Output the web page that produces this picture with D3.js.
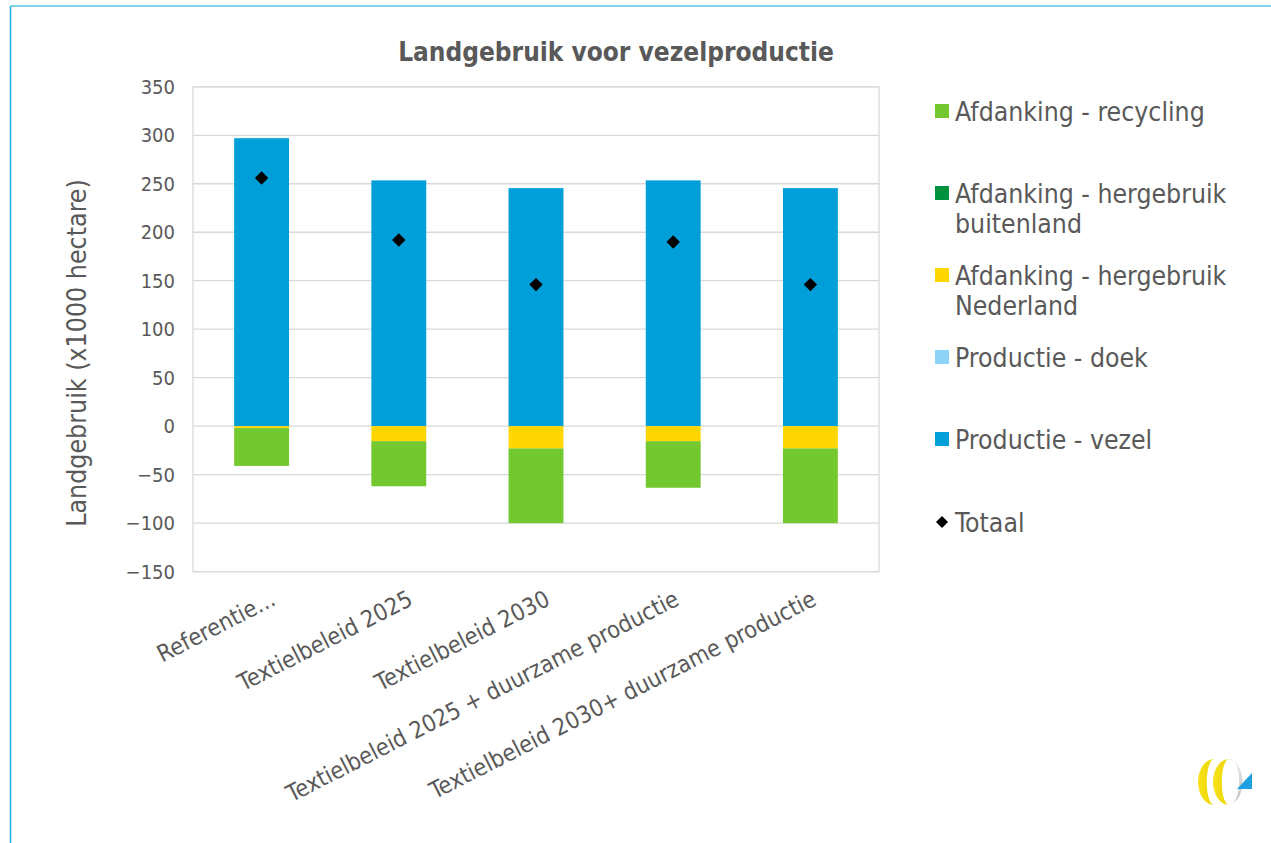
<!DOCTYPE html>
<html>
<head>
<meta charset="utf-8">
<script src="https://cdn.jsdelivr.net/npm/d3@7"></script>
<style>
  html, body { margin: 0; padding: 0; background: #fff; }
  svg { display: block; }
  text { font-family: "DejaVu Sans Condensed", "DejaVu Sans", sans-serif; fill: #595959; }
</style>
</head>
<body>
<svg id="chart" width="1271" height="843"></svg>
<script>
// ---- data ----
const categories = ["Referentie...", "Textielbeleid 2025", "Textielbeleid 2030",
  "Textielbeleid 2025 + duurzame productie", "Textielbeleid 2030+ duurzame productie"];
const productieVezel = [297, 253.5, 245.5, 253.5, 245.5];
const productieDoek = [0, 0, 0, 0, 0];
const hergebruikNederland = [-2, -15.5, -23, -15.5, -23];
const hergebruikBuitenland = [0, 0, 0, 0, 0];
const recycling = [-39, -46.5, -77, -48, -77];
const totaal = [256, 192, 146, 190, 146];
const yTicks = [350, 300, 250, 200, 150, 100, 50, 0, -50, -100, -150];

const seriesKeys = ["vezel", "doek", "nl", "buitenland", "recycling"];
const seriesColors = { vezel: "#009FDA", doek: "#8DD3F7", nl: "#FFD700", buitenland: "#00923F", recycling: "#72C82E" };
const legendItems = [
  { key: "recycling", lines: ["Afdanking - recycling"] },
  { key: "buitenland", lines: ["Afdanking - hergebruik", "buitenland"] },
  { key: "nl", lines: ["Afdanking - hergebruik", "Nederland"] },
  { key: "doek", lines: ["Productie - doek"] },
  { key: "vezel", lines: ["Productie - vezel"] },
  { key: "totaal", lines: ["Totaal"] }
];

const table = categories.map((c, i) => ({
  cat: c, vezel: productieVezel[i], doek: productieDoek[i], nl: hergebruikNederland[i],
  buitenland: hergebruikBuitenland[i], recycling: recycling[i], totaal: totaal[i]
}));

const FONT = "'DejaVu Sans Condensed', 'DejaVu Sans', sans-serif";
const svg = d3.select("#chart");

// outer frame (partially visible)
svg.append("line").attr("x1", 10.5).attr("x2", 1271).attr("y1", 6).attr("y2", 6)
  .attr("stroke", "#5BC2E7").attr("stroke-width", 1.5);
svg.append("line").attr("x1", 10.5).attr("x2", 10.5).attr("y1", 6).attr("y2", 843)
  .attr("stroke", "#1FB3EC").attr("stroke-width", 1.5);

const plot = { left: 193, right: 879, top: 86.8, bottom: 571.6 };

const x = d3.scaleBand().domain(categories).range([plot.left, plot.right])
  .paddingInner(0.6).paddingOuter(0.3);
const y = d3.scaleLinear().domain([-150, 350]).range([plot.bottom, plot.top]);

// gridlines
svg.append("g").selectAll("line").data(yTicks).join("line")
  .attr("x1", plot.left).attr("x2", plot.right)
  .attr("y1", d => y(d)).attr("y2", d => y(d))
  .attr("stroke", "#D9D9D9").attr("stroke-width", 1.3);
svg.append("rect").attr("x", plot.left).attr("y", plot.top)
  .attr("width", plot.right - plot.left).attr("height", plot.bottom - plot.top)
  .attr("fill", "none").attr("stroke", "#D9D9D9").attr("stroke-width", 1.3);

// stacked bars
const stack = d3.stack().keys(seriesKeys).offset(d3.stackOffsetDiverging);
const stacked = stack(table);
svg.append("g").selectAll("g").data(stacked).join("g")
  .attr("fill", d => seriesColors[d.key])
  .selectAll("rect").data(d => d).join("rect")
  .attr("x", d => x(d.data.cat))
  .attr("width", x.bandwidth())
  .attr("y", d => y(Math.max(d[0], d[1])))
  .attr("height", d => Math.abs(y(d[0]) - y(d[1])));

// totals
const diamond = d3.symbol().type(d3.symbolSquare).size(90);
svg.append("g").selectAll("path").data(table).join("path")
  .attr("d", diamond)
  .attr("transform", d => `translate(${x(d.cat) + x.bandwidth() / 2},${y(d.totaal)}) rotate(45)`)
  .attr("fill", "#000");

// y axis
const yAxis = d3.axisLeft(y).tickValues(yTicks).tickSize(0).tickPadding(18);
const gy = svg.append("g").attr("transform", `translate(${plot.left},0)`).call(yAxis);
gy.select(".domain").remove();
gy.selectAll("text").style("font-size", "20px").attr("fill", "#595959")
  .style("font-family", FONT);

// x axis
const xAxis = d3.axisBottom(x).tickSize(0).tickPadding(0);
const gx = svg.append("g").attr("transform", `translate(0,${plot.bottom})`).call(xAxis);
gx.select(".domain").remove();
gx.selectAll("text")
  .style("font-size", "23.5px").attr("fill", "#595959")
  .style("font-family", FONT)
  .attr("text-anchor", "end")
  .attr("dy", "0.7em")
  .attr("transform", (d, i) => `translate(${i < 3 ? 8 : 0},18) rotate(-27)`);

// title
svg.append("text").attr("x", 616).attr("y", 61).attr("text-anchor", "middle")
  .style("font-size", "26px").style("font-weight", "bold")
  .text("Landgebruik voor vezelproductie");

// y title
svg.append("text").attr("transform", "translate(86,353) rotate(-90)")
  .attr("text-anchor", "middle").style("font-size", "26.5px")
  .text("Landgebruik (x1000 hectare)");

// legend
const legendY = [111, 193, 275, 357, 439, 522];
const lg = svg.append("g");
legendItems.forEach((it, i) => {
  const cy = legendY[i];
  if (it.key === "totaal") {
    lg.append("path").attr("d", d3.symbol().type(d3.symbolSquare).size(72))
      .attr("transform", `translate(942,${cy}) rotate(45)`).attr("fill", "#000");
  } else {
    lg.append("rect").attr("x", 935).attr("y", cy - 7).attr("width", 14).attr("height", 14)
      .attr("fill", seriesColors[it.key]);
  }
  it.lines.forEach((ln, j) => {
    lg.append("text").attr("x", 955).attr("y", cy + j * 30).attr("dy", "0.36em")
      .style("font-size", "26.4px").text(ln);
  });
});

// logo
const defs = svg.append("defs");
const gy1 = defs.append("linearGradient").attr("id", "ylw").attr("x1", 0).attr("x2", 1).attr("y1", 0).attr("y2", 0);
gy1.append("stop").attr("offset", "0").attr("stop-color", "#F7E21A");
gy1.append("stop").attr("offset", "1").attr("stop-color", "#EDD500");
const gg = defs.append("linearGradient").attr("id", "gry").attr("x1", 0).attr("x2", 0).attr("y1", 0).attr("y2", 1);
gg.append("stop").attr("offset", "0").attr("stop-color", "#EDEDED");
gg.append("stop").attr("offset", "1").attr("stop-color", "#BDBDBD");
const logo = svg.append("g");
logo.append("path").attr("d", "M1228,760 A13,22 0 0 1 1233,803 A7,18 0 0 0 1228,760 Z").attr("fill", "url(#gry)");
logo.append("path").attr("d", "M1214,759 A16,23 0 0 0 1214,805 A6,19 0 0 1 1214,759 Z").attr("fill", "url(#ylw)");
logo.append("path").attr("d", "M1229,759 A16,23 0 0 0 1229,805 A6,19 0 0 1 1229,759 Z").attr("fill", "url(#ylw)");
logo.append("path").attr("d", "M1237,789 L1252,789 L1252,773 Z").attr("fill", "#1DA1E2");
</script>
</body>
</html>
